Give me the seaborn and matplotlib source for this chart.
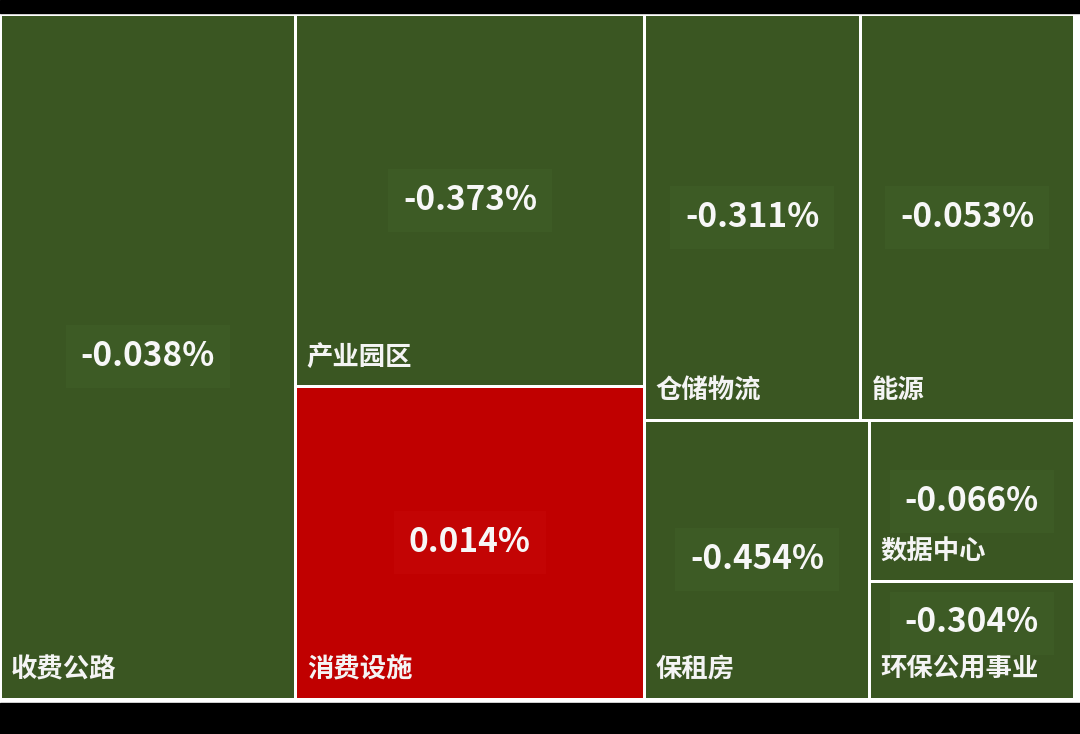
import matplotlib
matplotlib.use('Agg')
import matplotlib.pyplot as plt
from matplotlib.patches import Rectangle
import seaborn as sns

# treemap data (sizes)
names = ['收费公路', '产业园区', '消费设施', '仓储物流', '能源', '保租房', '数据中心', '环保公用事业']
sizes = [203, 130, 109, 88, 87, 63, 33, 24]
changes = [-0.038, -0.373, 0.014, -0.311, -0.053, -0.454, -0.066, -0.304]

# grouping of the cells, split direction alternates at each level
tree = [0, [1, 2], [[3, 4], [5, [6, 7]]]]

sns.set_theme(style='white')
plt.rcParams['font.family'] = ['Noto Sans CJK SC', 'DejaVu Sans']

GREEN = '#3a5622'
GREEN_BOX = '#3d5b25'
RED = '#c00000'
RED_BOX = '#c30404'


def total(node):
    if isinstance(node, int):
        return sizes[node]
    return sum(total(n) for n in node)


def layout(node, x, y, w, h, vertical, out):
    if isinstance(node, int):
        out[node] = (x, y, w, h)
        return
    s = total(node)
    pos = 0
    for child in node:
        frac = total(child) / s
        if vertical:
            layout(child, x, y + pos * h, w, frac * h, False, out)
        else:
            layout(child, x + pos * w, y, frac * w, h, True, out)
        pos += frac


W, H = 1074, 685
rects = {}
layout(tree, 0, 0, W, H, False, rects)

fig = plt.figure(figsize=(10.8, 7.34), dpi=100, facecolor='white')
# black bands at top and bottom
fig.add_artist(Rectangle((0, 1 - 13 / 734), 1, 13 / 734, transform=fig.transFigure, color='black'))
fig.add_artist(Rectangle((0, 0), 1, 31 / 734, transform=fig.transFigure, color='black'))

ax = fig.add_axes([0, 35 / 734, W / 1080, H / 734])
ax.set_xlim(0, W)
ax.set_ylim(H, 0)
ax.axis('off')

gap = 1.5
for i, name in enumerate(names):
    x, y, w, h = rects[i]
    up = changes[i] > 0
    face = RED if up else GREEN
    box = RED_BOX if up else GREEN_BOX
    ax.add_patch(Rectangle((x + gap, y + gap), w - 2 * gap, h - 2 * gap,
                           facecolor=face, edgecolor='none'))
    ax.text(x + 11, y + h - 16, name, color='#f4f4f4', fontsize=19,
            fontweight='bold', ha='left', va='bottom')
    vy = min(y + h / 2, y + h - 76)
    ax.text(x + w / 2, vy, f'{changes[i]:.3f}%', color='#f7f7f7',
            fontsize=24, fontweight='bold', ha='center', va='center',
            bbox=dict(boxstyle='square,pad=0.45', facecolor=box, edgecolor='none'))

fig.savefig('out.png', dpi=100, facecolor=fig.get_facecolor())
